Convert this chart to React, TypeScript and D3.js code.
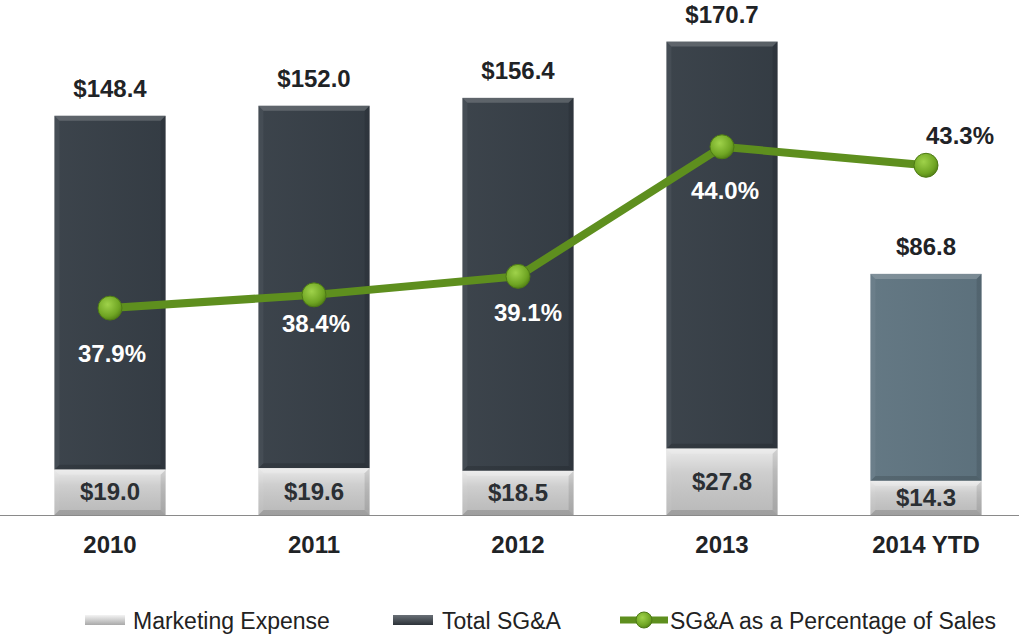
import React from 'react';
import * as d3 from 'd3';

const categories = ['2010', '2011', '2012', '2013', '2014 YTD'];
const marketing = [19.0, 19.6, 18.5, 27.8, 14.3];
const totalSGA = [148.4, 152.0, 156.4, 170.7, 86.8];
const pctOfSales = [37.9, 38.4, 39.1, 44.0, 43.3];
// label offset of the percentage text relative to its point (dx, dy)
const pctLabelPos = [
  [2, 46],
  [2, 29],
  [10, 37],
  [3, 44],
  [34, -29],
];

const W = 1019;
const H = 637;
const baseY = 515;
const font = '"Liberation Sans", Arial, sans-serif';

const Bevel: React.FC<{ x: number; y: number; w: number; h: number; fill: string; id: string }> = ({ x, y, w, h, fill, id }) => {
  const b = Math.min(5, h / 4);
  return (
    <g>
      <rect x={x} y={y} width={w} height={h} fill={fill} />
      <rect x={x} y={y} width={w} height={h} fill={`url(#shade-${id})`} />
      {/* top edge highlight */}
      <polygon points={`${x},${y} ${x + w},${y} ${x + w - b},${y + b} ${x + b},${y + b}`} fill="rgba(255,255,255,0.18)" />
      {/* left edge */}
      <polygon points={`${x},${y} ${x + b},${y + b} ${x + b},${y + h - b} ${x},${y + h}`} fill="rgba(255,255,255,0.05)" />
      {/* right edge */}
      <polygon points={`${x + w},${y} ${x + w - b},${y + b} ${x + w - b},${y + h - b} ${x + w},${y + h}`} fill="rgba(0,0,0,0.1)" />
      {/* bottom edge */}
      <polygon points={`${x},${y + h} ${x + b},${y + h - b} ${x + w - b},${y + h - b} ${x + w},${y + h}`} fill="rgba(0,0,0,0.14)" />
    </g>
  );
};

export default function App() {
  const x = d3.scaleBand<string>().domain(categories).range([8, 1028]).paddingInner(0.455).paddingOuter(0.2275);
  const y = d3.scaleLinear().domain([0, 200]).range([baseY, 38]);
  const yPct = d3.scaleLinear().domain([30, 48]).range([517, 41]);
  const bw = x.bandwidth();

  const line = d3
    .line<number>()
    .x((_, i) => (x(categories[i]) as number) + bw / 2)
    .y((d) => yPct(d));

  return (
    <div style={{ position: 'absolute', left: 0, top: 0, width: W, height: H, background: '#fff' }}>
      <svg width={W} height={H} style={{ display: 'block' }} fontFamily={font}>
        <defs>
          <linearGradient id="shade-dark" x1="0" y1="0" x2="1" y2="0">
            <stop offset="0%" stopColor="rgba(255,255,255,0.03)" />
            <stop offset="100%" stopColor="rgba(0,0,0,0.03)" />
          </linearGradient>
          <linearGradient id="shade-light" x1="0" y1="0" x2="0" y2="1">
            <stop offset="0%" stopColor="rgba(255,255,255,0.6)" />
            <stop offset="35%" stopColor="rgba(255,255,255,0.1)" />
            <stop offset="100%" stopColor="rgba(0,0,0,0.08)" />
          </linearGradient>
          <radialGradient id="dot" cx="0.4" cy="0.35" r="0.7">
            <stop offset="0%" stopColor="#9fd24a" />
            <stop offset="70%" stopColor="#6fa523" />
            <stop offset="100%" stopColor="#4f7c14" />
          </radialGradient>
          <linearGradient id="leg-light" x1="0" y1="0" x2="0" y2="1">
            <stop offset="0%" stopColor="#f4f4f4" />
            <stop offset="100%" stopColor="#a9a9a9" />
          </linearGradient>
          <linearGradient id="leg-dark" x1="0" y1="0" x2="0" y2="1">
            <stop offset="0%" stopColor="#6a7077" />
            <stop offset="100%" stopColor="#2c3238" />
          </linearGradient>
        </defs>

        {/* axis line */}
        <line x1={0} x2={1019} y1={baseY + 0.5} y2={baseY + 0.5} stroke="#8a8a8a" strokeWidth={1.2} />

        {/* bars */}
        {categories.map((c, i) => {
          const bx = x(c) as number;
          const yM = y(marketing[i]);
          const yT = y(marketing[i] + totalSGA[i]);
          const dark = i === 4 ? '#5f7480' : '#363e46';
          return (
            <g key={c}>
              <Bevel x={bx} y={yT} w={bw} h={yM - yT} fill={dark} id="dark" />
              <Bevel x={bx} y={yM} w={bw} h={baseY - yM} fill="#c9c9c9" id="light" />
              <text x={bx + bw / 2} y={(yM + baseY) / 2 + 8} textAnchor="middle" fontSize={24} fontWeight="bold" fill="#2b2f33">
                ${marketing[i].toFixed(1)}
              </text>
              <text x={bx + bw / 2} y={yT - 19} textAnchor="middle" fontSize={24} fontWeight="bold" fill="#1f2326">
                ${totalSGA[i].toFixed(1)}
              </text>
              <text x={bx + bw / 2} y={553} textAnchor="middle" fontSize={24} fontWeight="bold" fill="#1f2326">
                {c}
              </text>
            </g>
          );
        })}

        {/* line */}
        <path d={line(pctOfSales) || ''} fill="none" stroke="#5e8f1e" strokeWidth={8} strokeLinejoin="round" />
        {pctOfSales.map((p, i) => {
          const cx = (x(categories[i]) as number) + bw / 2;
          const cy = yPct(p);
          return (
            <g key={i}>
              <circle cx={cx} cy={cy} r={12} fill="url(#dot)" stroke="#4d7a15" strokeWidth={1} />
              <text
                x={cx + pctLabelPos[i][0]}
                y={cy + pctLabelPos[i][1] + 8}
                textAnchor="middle"
                fontSize={24}
                fontWeight="bold"
                fill={i === 4 ? '#1f2326' : '#ffffff'}
              >
                {p.toFixed(1)}%
              </text>
            </g>
          );
        })}

        {/* legend */}
        <g fontSize={23} fill="#222">
          <rect x={85} y={615} width={40} height={10} fill="url(#leg-light)" />
          <text x={133} y={629}>Marketing Expense</text>
          <rect x={393} y={615} width={40} height={10} fill="url(#leg-dark)" />
          <text x={442} y={629}>Total SG&amp;A</text>
          <line x1={620} x2={668} y1={620} y2={620} stroke="#5e8f1e" strokeWidth={7} />
          <circle cx={644} cy={620} r={8} fill="url(#dot)" stroke="#4d7a15" strokeWidth={1} />
          <text x={670} y={629}>SG&amp;A as a Percentage of Sales</text>
        </g>
      </svg>
    </div>
  );
}
